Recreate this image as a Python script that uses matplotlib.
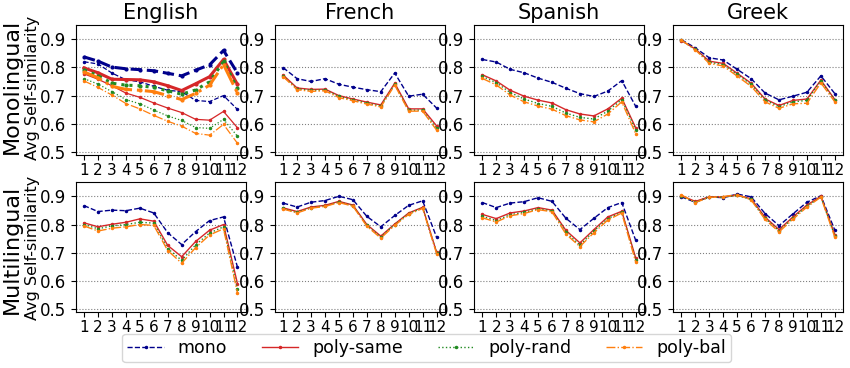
import numpy as np
import matplotlib
matplotlib.use("Agg")
import matplotlib.pyplot as plt

layers = np.arange(1, 13)
languages = ["English", "French", "Spanish", "Greek"]
series = ["mono", "poly-same", "poly-rand", "poly-bal"]

# Monolingual models
mono_en = [0.837, 0.822, 0.801, 0.795, 0.792, 0.788, 0.779, 0.770, 0.790, 0.809, 0.860, 0.780]
same_en = [0.798, 0.781, 0.758, 0.757, 0.756, 0.749, 0.735, 0.718, 0.742, 0.767, 0.828, 0.740]
rand_en = [0.791, 0.771, 0.744, 0.737, 0.735, 0.729, 0.717, 0.705, 0.720, 0.749, 0.821, 0.726]
bal_en = [0.784, 0.763, 0.733, 0.722, 0.719, 0.714, 0.700, 0.686, 0.708, 0.737, 0.810, 0.709]
# English, second (thin) set
mono_en2 = [0.820, 0.812, 0.780, 0.756, 0.749, 0.733, 0.719, 0.714, 0.683, 0.679, 0.700, 0.651]
same_en2 = [0.777, 0.758, 0.735, 0.709, 0.694, 0.674, 0.656, 0.640, 0.616, 0.613, 0.644, 0.586]
rand_en2 = [0.760, 0.741, 0.714, 0.686, 0.671, 0.649, 0.628, 0.612, 0.587, 0.584, 0.616, 0.556]
bal_en2 = [0.752, 0.729, 0.702, 0.672, 0.653, 0.630, 0.609, 0.592, 0.566, 0.560, 0.598, 0.531]

mono_fr = [0.799, 0.760, 0.750, 0.760, 0.740, 0.730, 0.721, 0.714, 0.780, 0.698, 0.705, 0.656]
same_fr = [0.773, 0.727, 0.722, 0.723, 0.700, 0.688, 0.677, 0.667, 0.744, 0.653, 0.653, 0.593]
rand_fr = [0.769, 0.724, 0.719, 0.720, 0.697, 0.685, 0.673, 0.663, 0.740, 0.648, 0.649, 0.584]
bal_fr = [0.767, 0.721, 0.715, 0.717, 0.693, 0.682, 0.670, 0.660, 0.737, 0.645, 0.645, 0.578]

mono_es = [0.828, 0.819, 0.793, 0.781, 0.762, 0.747, 0.726, 0.707, 0.697, 0.716, 0.753, 0.662]
same_es = [0.774, 0.752, 0.719, 0.698, 0.684, 0.674, 0.650, 0.635, 0.628, 0.653, 0.691, 0.586]
rand_es = [0.768, 0.746, 0.711, 0.688, 0.672, 0.662, 0.638, 0.623, 0.617, 0.645, 0.686, 0.578]
bal_es = [0.761, 0.738, 0.702, 0.678, 0.663, 0.652, 0.629, 0.614, 0.607, 0.635, 0.678, 0.565]

mono_el = [0.898, 0.869, 0.834, 0.826, 0.793, 0.760, 0.709, 0.685, 0.698, 0.712, 0.770, 0.707]
same_el = [0.895, 0.865, 0.822, 0.814, 0.779, 0.744, 0.688, 0.665, 0.683, 0.688, 0.755, 0.686]
rand_el = [0.896, 0.864, 0.818, 0.810, 0.775, 0.740, 0.684, 0.661, 0.678, 0.683, 0.752, 0.683]
bal_el = [0.897, 0.862, 0.814, 0.805, 0.769, 0.733, 0.678, 0.655, 0.671, 0.673, 0.745, 0.678]

# Multilingual models
m_mono_en = [0.867, 0.846, 0.851, 0.849, 0.858, 0.841, 0.771, 0.729, 0.775, 0.814, 0.827, 0.649]
m_same_en = [0.806, 0.792, 0.801, 0.808, 0.820, 0.812, 0.726, 0.686, 0.740, 0.780, 0.800, 0.591]
m_rand_en = [0.800, 0.785, 0.795, 0.800, 0.808, 0.805, 0.715, 0.673, 0.728, 0.770, 0.792, 0.570]
m_bal_en = [0.795, 0.777, 0.787, 0.792, 0.800, 0.797, 0.708, 0.663, 0.718, 0.763, 0.785, 0.558]

m_mono_fr = [0.876, 0.862, 0.879, 0.885, 0.900, 0.888, 0.829, 0.792, 0.832, 0.868, 0.884, 0.755]
m_same_fr = [0.859, 0.846, 0.862, 0.868, 0.882, 0.869, 0.800, 0.759, 0.802, 0.841, 0.861, 0.702]
m_rand_fr = [0.857, 0.843, 0.860, 0.866, 0.880, 0.867, 0.797, 0.756, 0.800, 0.839, 0.859, 0.700]
m_bal_fr = [0.855, 0.841, 0.858, 0.864, 0.878, 0.865, 0.794, 0.752, 0.797, 0.836, 0.857, 0.697]

m_mono_es = [0.878, 0.860, 0.876, 0.881, 0.895, 0.882, 0.822, 0.782, 0.822, 0.860, 0.878, 0.744]
m_same_es = [0.836, 0.821, 0.841, 0.848, 0.860, 0.851, 0.779, 0.735, 0.782, 0.827, 0.847, 0.682]
m_rand_es = [0.829, 0.814, 0.835, 0.843, 0.856, 0.848, 0.772, 0.727, 0.777, 0.821, 0.844, 0.673]
m_bal_es = [0.824, 0.809, 0.831, 0.839, 0.853, 0.845, 0.766, 0.722, 0.771, 0.816, 0.841, 0.667]

m_mono_el = [0.898, 0.879, 0.898, 0.895, 0.908, 0.898, 0.839, 0.796, 0.838, 0.879, 0.902, 0.780]
m_same_el = [0.902, 0.882, 0.898, 0.898, 0.904, 0.891, 0.826, 0.782, 0.827, 0.869, 0.900, 0.764]
m_rand_el = [0.900, 0.880, 0.897, 0.897, 0.903, 0.889, 0.822, 0.778, 0.823, 0.865, 0.898, 0.760]
m_bal_el = [0.905, 0.878, 0.896, 0.899, 0.906, 0.887, 0.818, 0.774, 0.819, 0.862, 0.897, 0.755]

mono_rows = [
    [mono_en, same_en, rand_en, bal_en],
    [mono_fr, same_fr, rand_fr, bal_fr],
    [mono_es, same_es, rand_es, bal_es],
    [mono_el, same_el, rand_el, bal_el],
]
multi_rows = [
    [m_mono_en, m_same_en, m_rand_en, m_bal_en],
    [m_mono_fr, m_same_fr, m_rand_fr, m_bal_fr],
    [m_mono_es, m_same_es, m_rand_es, m_bal_es],
    [m_mono_el, m_same_el, m_rand_el, m_bal_el],
]
english_thin = [mono_en2, same_en2, rand_en2, bal_en2]

colors = ["#00008b", "#d62728", "#228b22", "#ff7f0e"]
styles = ["--", "-", ":", "-."]

fig, axes = plt.subplots(2, 4, figsize=(8.5, 3.68), dpi=100)
fig.subplots_adjust(left=0.089, right=0.992, top=0.932, bottom=0.152,
                    wspace=0.17, hspace=0.21)

for row, data in enumerate([mono_rows, multi_rows]):
    for col in range(4):
        ax = axes[row, col]
        if row == 0 and col == 0:
            # thick set plus thin set for English
            for i in range(4):
                ax.plot(layers, data[col][i], color=colors[i], linestyle=styles[i],
                        marker=".", markersize=4, linewidth=2.2)
                ax.plot(layers, english_thin[i], color=colors[i], linestyle=styles[i],
                        marker=".", markersize=3, linewidth=0.9)
        else:
            for i in range(4):
                ax.plot(layers, data[col][i], color=colors[i], linestyle=styles[i],
                        marker=".", markersize=3, linewidth=1.0, label=series[i])
        ax.set_ylim(0.49, 0.95)
        ax.set_xlim(0.4, 12.6)
        ax.set_yticks([0.5, 0.6, 0.7, 0.8, 0.9])
        ax.set_xticks(layers)
        ax.tick_params(axis="y", labelsize=12)
        ax.tick_params(axis="x", labelsize=11, pad=2)
        ax.yaxis.grid(True, linestyle=":", color="grey", linewidth=0.8)
        if row == 0:
            ax.set_title(languages[col], fontsize=15, pad=4)

fig.text(0.002, 0.766, "Monolingual", rotation=90, fontsize=16, va="center", ha="left")
fig.text(0.030, 0.762, "Avg Self-similarity", rotation=90, fontsize=11.5, va="center", ha="left")
fig.text(0.002, 0.323, "Multilingual", rotation=90, fontsize=16, va="center", ha="left")
fig.text(0.030, 0.326, "Avg Self-similarity", rotation=90, fontsize=11.5, va="center", ha="left")

handles, labels = axes[0, 1].get_legend_handles_labels()
fig.legend(handles, labels, loc="lower center", ncol=4, fontsize=12.5,
           bbox_to_anchor=(0.502, -0.008), handlelength=2.1, columnspacing=2.0,
           borderpad=0.3, frameon=True)

fig.savefig("out.png", dpi=100)
